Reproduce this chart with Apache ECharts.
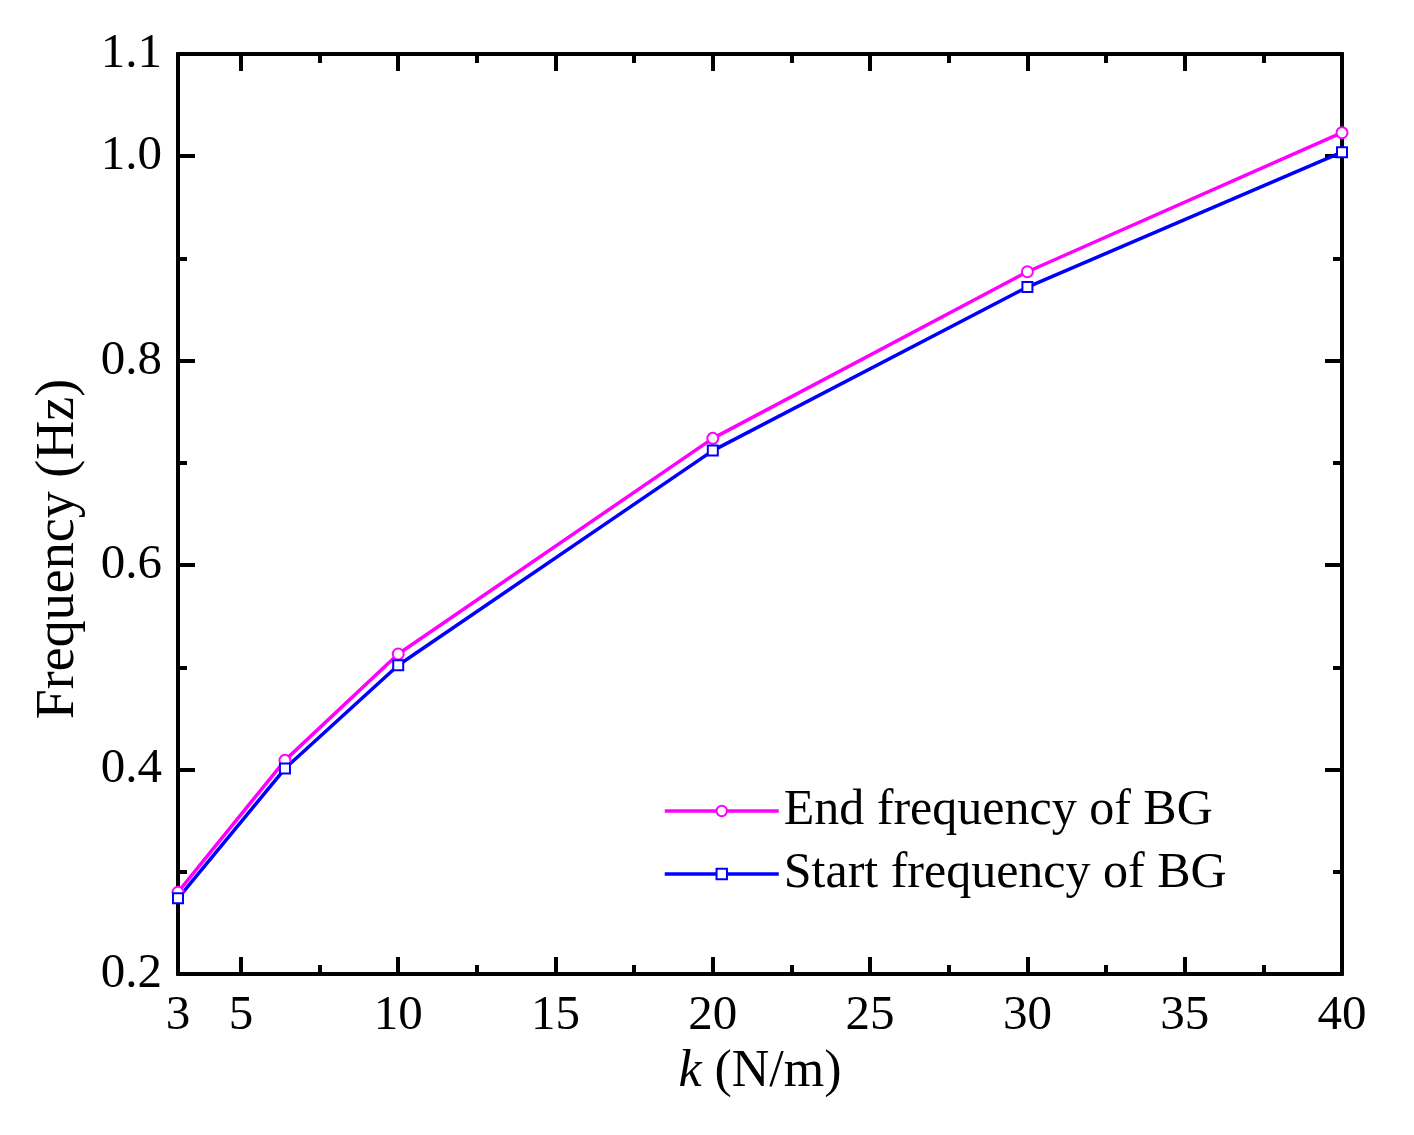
<!DOCTYPE html>
<html>
<head>
<meta charset="utf-8">
<script src="https://cdn.jsdelivr.net/npm/echarts@6/dist/echarts.min.js"></script>
<style>
html,body{margin:0;padding:0;background:#fff;}
#chart{width:1414px;height:1135px;}
</style>
</head>
<body>
<div id="chart"></div>
<script>
// Data
var kValues = [3, 6.4, 10, 20, 30, 40];
var endFreq = [0.280, 0.409, 0.513, 0.724, 0.887, 1.023];
var startFreq = [0.274, 0.401, 0.502, 0.712, 0.872, 1.004];
var seriesNames = ['End frequency of BG', 'Start frequency of BG'];

// Ticks
var xLabelValues = [3, 5, 10, 15, 20, 25, 30, 35, 40];
var xMajorTicks = [5, 10, 15, 20, 25, 30, 35, 40];
var xMinorTicks = [7.5, 12.5, 17.5, 22.5, 27.5, 32.5, 37.5];
var yLabelValues = [0.2, 0.4, 0.6, 0.8, 1.0, 1.1];
var yMajorTicks = [0.4, 0.6, 0.8, 1.0];
var yMinorTicks = [0.3, 0.5, 0.7, 0.9];
var xMin = 3, xMax = 40, yMin = 0.2, yMax = 1.1;

var FONT = 'Liberation Serif';
var AX = '#000';

function xAxisDef(pos, ticks, len, labels, name) {
  var a = {
    type: 'value', position: pos, min: xMin, max: xMax,
    splitLine: {show: false},
    axisLine: {show: true, onZero: false, lineStyle: {color: AX, width: 4}},
    axisTick: {show: true, inside: true, length: len, customValues: ticks, lineStyle: {color: AX, width: 4}},
    axisLabel: {show: false}
  };
  if (labels) {
    a.axisLabel = {show: true, customValues: labels, margin: 18, color: '#000', fontFamily: FONT, fontSize: 49,
      formatter: function (v) { return String(v); }};
  }
  if (name) {
    a.name = '{i|k} (N/m)';
    a.nameLocation = 'middle';
    a.nameGap = 71;
    a.nameTextStyle = {color: '#000', fontFamily: FONT, fontSize: 52,
      rich: {i: {fontStyle: 'italic', fontFamily: FONT, fontSize: 52, color: '#000'}}};
  }
  return a;
}
function yAxisDef(pos, ticks, len, labels, name) {
  var a = {
    type: 'value', position: pos, min: yMin, max: yMax,
    splitLine: {show: false},
    axisLine: {show: true, onZero: false, lineStyle: {color: AX, width: 4}},
    axisTick: {show: true, inside: true, length: len, customValues: ticks, lineStyle: {color: AX, width: 4}},
    axisLabel: {show: false}
  };
  if (labels) {
    a.axisLabel = {show: true, customValues: labels, margin: 16, color: '#000', fontFamily: FONT, fontSize: 49,
      formatter: function (v) { return v.toFixed(1); }};
  }
  if (name) {
    a.name = 'Frequency (Hz)';
    a.nameLocation = 'middle';
    a.nameGap = 92;
    a.nameTextStyle = {color: '#000', fontFamily: FONT, fontSize: 54, padding: [0, 70, 0, 0]};
  }
  return a;
}

var chart = echarts.init(document.getElementById('chart'), null, {renderer: 'canvas'});
chart.setOption({
  backgroundColor: '#fff',
  animation: false,
  grid: {left: 178, right: 72, top: 54, bottom: 161},
  xAxis: [
    xAxisDef('bottom', xMajorTicks, 17, xLabelValues, true),
    xAxisDef('bottom', xMinorTicks, 9, null, false),
    xAxisDef('top', xMajorTicks, 17, null, false),
    xAxisDef('top', xMinorTicks, 9, null, false)
  ],
  yAxis: [
    yAxisDef('left', yMajorTicks, 17, yLabelValues, true),
    yAxisDef('left', yMinorTicks, 9, null, false),
    yAxisDef('right', yMajorTicks, 17, null, false),
    yAxisDef('right', yMinorTicks, 9, null, false)
  ],
  legend: {
    orient: 'vertical', left: 658, top: 781,
    itemWidth: 114, itemHeight: 13, itemGap: 13,
    lineStyle: {width: 3.5},
    textStyle: {color: '#000', fontFamily: FONT, fontSize: 50, padding: [0, 0, 0, 0]},
    data: seriesNames
  },
  series: [
    {
      name: seriesNames[0], type: 'line', xAxisIndex: 0, yAxisIndex: 0,
      data: kValues.map(function (k, i) { return [k, endFreq[i]]; }),
      symbol: 'emptyCircle', symbolSize: 11,
      lineStyle: {color: '#FF00FF', width: 3.5},
      itemStyle: {color: '#FF00FF', borderColor: '#FF00FF', borderWidth: 2}
    },
    {
      name: seriesNames[1], type: 'line', xAxisIndex: 0, yAxisIndex: 0,
      data: kValues.map(function (k, i) { return [k, startFreq[i]]; }),
      symbol: 'emptyRect', symbolSize: 10,
      lineStyle: {color: '#0000FF', width: 3.5},
      itemStyle: {color: '#0000FF', borderColor: '#0000FF', borderWidth: 2}
    }
  ]
});
</script>
</body>
</html>
